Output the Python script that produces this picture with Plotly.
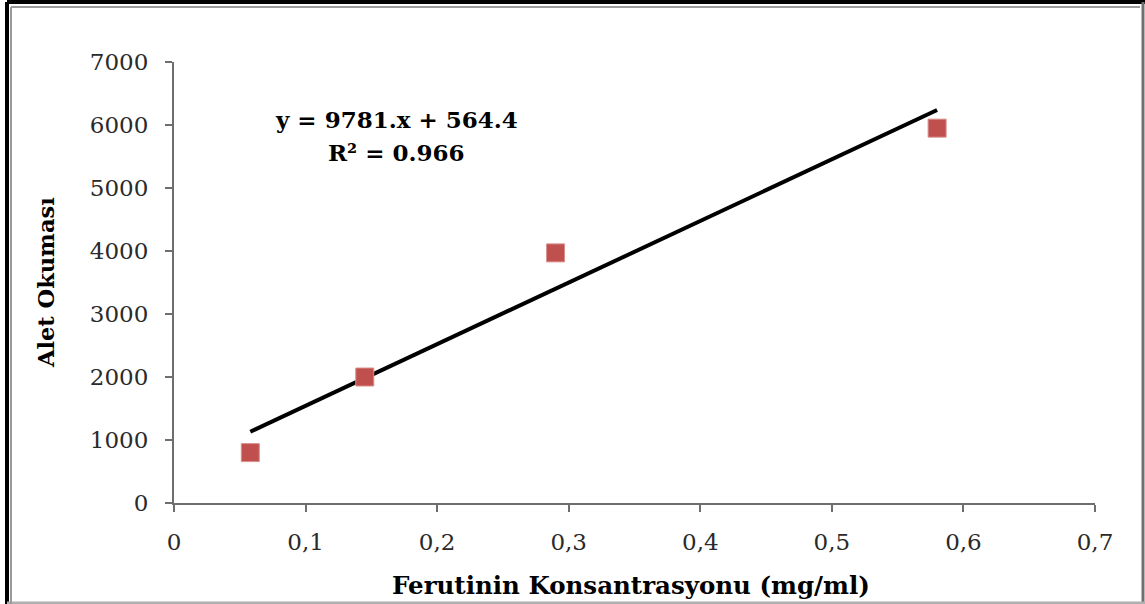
import plotly.graph_objects as go

# Calibration data: ferutinin concentration vs instrument reading
konsantrasyon = [0.058, 0.145, 0.29, 0.58]
okuma = [800, 2000, 3970, 5950]

# Linear fit shown on the chart
egim = 9781.0
kesisim = 564.4
r2 = 0.966

x_ticks = [0, 0.1, 0.2, 0.3, 0.4, 0.5, 0.6, 0.7]
x_tick_text = ["0", "0,1", "0,2", "0,3", "0,4", "0,5", "0,6", "0,7"]
y_ticks = [0, 1000, 2000, 3000, 4000, 5000, 6000, 7000]

W, H = 1145, 604
L, R, T, B = 174, 50, 62, 101
pw, ph = W - L - R, H - T - B

def px(x):
    return (x - L) / pw

def py(y):
    return (H - B - y) / ph

def frame_line(x0, y0, x1, y1, color, width):
    return dict(type="line", xref="paper", yref="paper",
                x0=px(x0), y0=py(y0), x1=px(x1), y1=py(y1),
                line=dict(color=color, width=width))

fit_x = [min(konsantrasyon), max(konsantrasyon)]
fit_y = [kesisim + egim * v for v in fit_x]

font_family = "DejaVu Serif, Liberation Serif, serif"

fig = go.Figure()
fig.add_trace(go.Scatter(
    x=fit_x, y=fit_y, mode="lines",
    line=dict(color="black", width=4),
    hoverinfo="skip", showlegend=False,
))
fig.add_trace(go.Scatter(
    x=konsantrasyon, y=okuma, mode="markers",
    marker=dict(symbol="square", size=18, color="#C0504D",
                line=dict(color="#D9908E", width=1)),
    showlegend=False,
))

axis_common = dict(
    showgrid=False, zeroline=False, showline=True,
    linecolor="#6e6e6e", linewidth=2,
    ticks="outside", ticklen=7, tickwidth=2, tickcolor="#6e6e6e",
    tickfont=dict(size=23, family=font_family, color="#2a2a2a"),
)

fig.update_layout(
    width=W, height=H,
    margin=dict(l=L, r=R, t=T, b=B),
    paper_bgcolor="white", plot_bgcolor="white",
    font=dict(family=font_family, color="#222"),
    xaxis=dict(range=[0, 0.7], tickvals=x_ticks, ticktext=x_tick_text,
               ticklabelstandoff=10, **axis_common),
    yaxis=dict(range=[0, 7000], tickvals=y_ticks,
               ticklabelstandoff=12, **axis_common),
    annotations=[
        dict(x=px(396), y=py(120), xref="paper", yref="paper",
             xanchor="center", yanchor="middle",
             text=f"<b>y = {egim:.0f}.x + {kesisim}</b>", showarrow=False,
             font=dict(size=23, family=font_family, color="black")),
        dict(x=px(396), y=py(152), xref="paper", yref="paper",
             xanchor="center", yanchor="middle",
             text=f"<b>R² = {r2}</b>", showarrow=False,
             font=dict(size=23, family=font_family, color="black")),
        dict(x=px(631), y=py(585), xref="paper", yref="paper",
             xanchor="center", yanchor="middle",
             text="<b>Ferutinin Konsantrasyonu (mg/ml)</b>", showarrow=False,
             font=dict(size=24.5, family=font_family, color="black")),
        dict(x=px(46), y=py(283), xref="paper", yref="paper",
             xanchor="center", yanchor="middle", textangle=-90,
             text="<b>Alet Okuması</b>", showarrow=False,
             font=dict(size=22.5, family=font_family, color="black")),
    ],
    shapes=[
        # outer frame: dark top/left, grey right/bottom
        frame_line(7, 2, 1145, 2, "black", 4),
        frame_line(7, 2, 7, 604, "black", 4),
        frame_line(1143, 2, 1143, 604, "#707070", 3),
        frame_line(7, 603, 1145, 603, "#b0b0b0", 3),
        # inner grey bevel
        frame_line(11, 7, 1140, 7, "#9a9a9a", 2),
        frame_line(11, 7, 11, 604, "#9a9a9a", 2),
    ],
)

fig.write_html("out.html")
